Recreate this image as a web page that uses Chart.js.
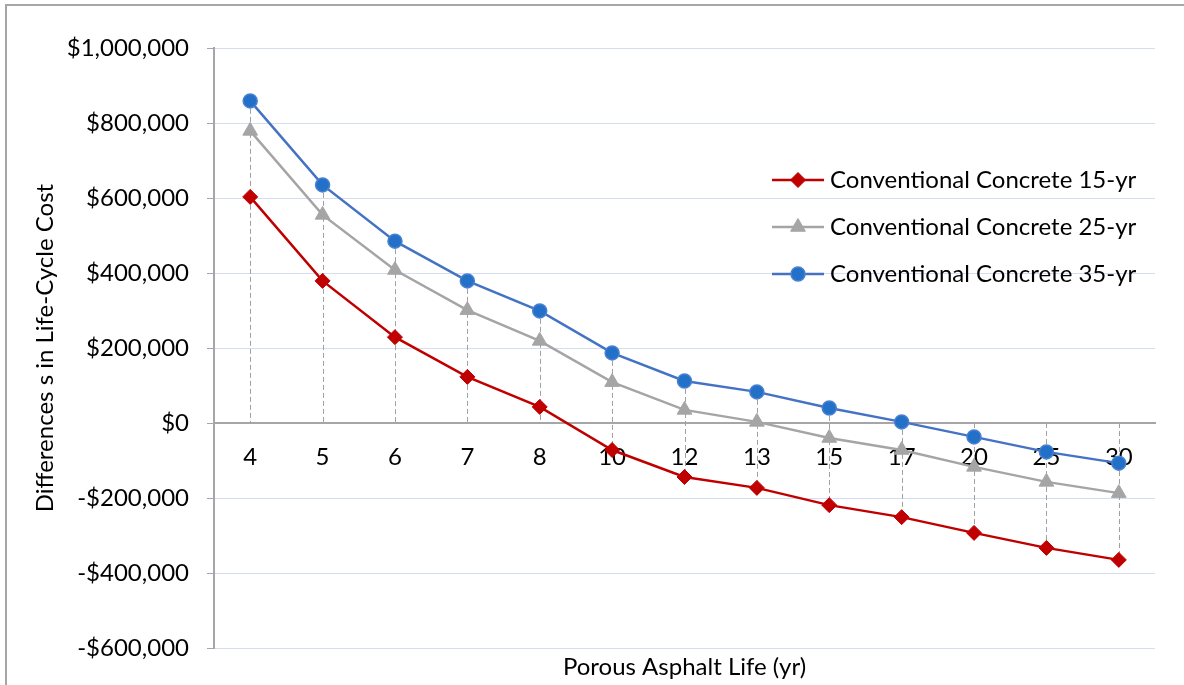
<!DOCTYPE html>
<html>
<head>
<meta charset="utf-8">
<title>Differences in Life-Cycle Cost</title>
<script src="https://cdn.jsdelivr.net/npm/chart.js@4.4.1/dist/chart.umd.min.js"></script>
<style>
  html, body { margin: 0; padding: 0; background: #ffffff; }
  #wrap { position: relative; width: 1184px; height: 685px; overflow: hidden; }
  canvas { display: block; }
</style>
</head>
<body>
<div id="wrap"><canvas id="lcc" width="1184" height="685"></canvas></div>
<script>
// Porous asphalt life (years) on the category axis
const asphaltLife = ['4', '5', '6', '7', '8', '10', '12', '13', '15', '17', '20', '25', '30'];

// Life-cycle cost differences against conventional concrete of each service life ($)
const concrete15yr = [603000, 379000, 229000, 123000, 43000, -72000, -144000, -173000, -219000, -251000, -293000, -333000, -365000];
const concrete25yr = [779000, 555000, 408000, 301000, 219000, 109000, 35000, 3000, -40000, -72000, -117000, -157000, -187000];
const concrete35yr = [859000, 635000, 485000, 379000, 299000, 187000, 112000, 83000, 40000, 3000, -37000, -77000, -107000];

const seriesLabels = ['Conventional Concrete 15-yr', 'Conventional Concrete 25-yr', 'Conventional Concrete 35-yr'];

// Value axis range
const yMin = -600000;
const yMax = 1000000;
const yStep = 200000;

const FONT = 'Lato, "Open Sans", "Noto Sans", sans-serif';
const FONT_SIZE = 24;
const AXIS_GREY = '#A6A6A6';

function money(v) {
  const s = '$' + Math.abs(v).toLocaleString('en-US');
  return v < 0 ? '-' + s : s;
}

// Outer frame of the chart object
const framePlugin = {
  id: 'frame',
  beforeDraw(chart) {
    const ctx = chart.ctx;
    ctx.save();
    ctx.fillStyle = '#ffffff';
    ctx.fillRect(0, 0, chart.width, chart.height);
    ctx.strokeStyle = AXIS_GREY;
    ctx.lineWidth = 2;
    ctx.beginPath();
    ctx.moveTo(6, chart.height + 5);
    ctx.lineTo(6, 5);
    ctx.lineTo(chart.width + 5, 5);
    ctx.stroke();
    ctx.restore();
  }
};

// Dashed drop lines from each category's points to the zero axis
const dropLinePlugin = {
  id: 'dropLines',
  beforeDatasetsDraw(chart) {
    const {ctx, chartArea, scales: {x, y}} = chart;
    const sets = chart.data.datasets;
    ctx.save();
    ctx.beginPath();
    ctx.rect(chartArea.left, chartArea.top, chartArea.right - chartArea.left, chartArea.bottom - chartArea.top);
    ctx.clip();
    ctx.strokeStyle = '#A0A0A0';
    ctx.lineWidth = 1;
    ctx.setLineDash([5, 3]);
    chart.data.labels.forEach((_, i) => {
      const vals = sets.map(d => d.data[i]);
      const hi = Math.max(0, ...vals);
      const lo = Math.min(0, ...vals);
      const px = Math.round(x.getPixelForValue(i)) + 0.5;
      ctx.beginPath();
      ctx.moveTo(px, y.getPixelForValue(hi));
      ctx.lineTo(px, y.getPixelForValue(lo));
      ctx.stroke();
    });
    ctx.restore();
  }
};

function drawMarker(ctx, style, cx, cy, r, fill, stroke, bw) {
  ctx.beginPath();
  if (style === 'rectRot') {
    ctx.moveTo(cx - r, cy);
    ctx.lineTo(cx, cy - r);
    ctx.lineTo(cx + r, cy);
    ctx.lineTo(cx, cy + r);
    ctx.closePath();
  } else if (style === 'triangle') {
    for (let k = 0; k < 3; k++) {
      const a = k * 2 * Math.PI / 3;
      const px = cx + Math.sin(a) * r, py = cy - Math.cos(a) * r;
      if (k === 0) ctx.moveTo(px, py); else ctx.lineTo(px, py);
    }
    ctx.closePath();
  } else {
    ctx.arc(cx, cy, r, 0, Math.PI * 2);
  }
  ctx.fillStyle = fill;
  ctx.fill();
  if (bw > 0) {
    ctx.lineWidth = bw;
    ctx.strokeStyle = stroke;
    ctx.stroke();
  }
}

// Legend placed inside the plot area on the right
const insideLegendPlugin = {
  id: 'insideLegend',
  afterDraw(chart) {
    const ctx = chart.ctx;
    const x0 = 772, x1 = 824, textX = 830;
    const rows = [180, 227, 274];
    ctx.save();
    chart.data.datasets.forEach((d, i) => {
      const yy = rows[i];
      ctx.setLineDash([]);
      ctx.strokeStyle = d.borderColor;
      ctx.lineWidth = d.borderWidth;
      ctx.beginPath();
      ctx.moveTo(x0, yy);
      ctx.lineTo(x1, yy);
      ctx.stroke();
      drawMarker(ctx, d.pointStyle, (x0 + x1) / 2, yy, d.pointRadius, d.pointBackgroundColor, d.pointBorderColor, d.pointBorderWidth);
      ctx.fillStyle = '#000000';
      ctx.font = FONT_SIZE + 'px ' + FONT;
      ctx.textAlign = 'left';
      ctx.textBaseline = 'middle';
      ctx.fillText(d.label, textX, yy);
    });
    ctx.restore();
  }
};

// Category axis title centred under the plot area
const xTitlePlugin = {
  id: 'xTitle',
  afterDraw(chart) {
    const {ctx, chartArea} = chart;
    ctx.save();
    ctx.fillStyle = '#000000';
    ctx.font = FONT_SIZE + 'px ' + FONT;
    ctx.textAlign = 'center';
    ctx.textBaseline = 'middle';
    ctx.fillText('Porous Asphalt Life (yr)', (chartArea.left + chartArea.right) / 2, 667);
    ctx.restore();
  }
};

new Chart(document.getElementById('lcc'), {
  type: 'line',
  data: {
    labels: asphaltLife,
    datasets: [
      {
        label: seriesLabels[0],
        data: concrete15yr,
        borderColor: '#C00000',
        borderWidth: 2.5,
        pointStyle: 'rectRot',
        pointRadius: 7.5,
        pointBackgroundColor: '#C00000',
        pointBorderColor: '#C00000',
        pointBorderWidth: 1,
        tension: 0
      },
      {
        label: seriesLabels[1],
        data: concrete25yr,
        borderColor: '#A5A5A5',
        borderWidth: 2.5,
        pointStyle: 'triangle',
        pointRadius: 8.5,
        pointBackgroundColor: '#A5A5A5',
        pointBorderColor: '#A5A5A5',
        pointBorderWidth: 1,
        tension: 0
      },
      {
        label: seriesLabels[2],
        data: concrete35yr,
        borderColor: '#4472C4',
        borderWidth: 2.5,
        pointStyle: 'circle',
        pointRadius: 7,
        pointBackgroundColor: '#2270C8',
        pointBorderColor: '#4A80D0',
        pointBorderWidth: 1.5,
        tension: 0
      }
    ]
  },
  options: {
    responsive: false,
    animation: false,
    layout: { padding: { left: 0, top: 48, right: 29, bottom: 37 } },
    plugins: {
      legend: { display: false },
      tooltip: { enabled: false },
      title: { display: false }
    },
    scales: {
      x: {
        type: 'category',
        offset: true,
        position: { y: 0 },
        z: 1,
        grid: { display: false, drawTicks: false },
        border: { display: true, color: AXIS_GREY, width: 2 },
        ticks: {
          color: '#000000',
          font: { family: FONT, size: FONT_SIZE },
          padding: 20,
          maxRotation: 0,
          autoSkip: false
        }
      },
      y: {
        min: yMin,
        max: yMax,
        afterFit(scale) { scale.width = 214; },
        grid: {
          color: '#D5DEEE',
          lineWidth: 1,
          tickColor: AXIS_GREY,
          tickLength: 7,
          drawTicks: true
        },
        border: { display: true, color: AXIS_GREY, width: 2 },
        ticks: {
          stepSize: yStep,
          color: '#000000',
          font: { family: FONT, size: FONT_SIZE },
          padding: 18,
          callback: (v) => money(v)
        },
        title: {
          display: true,
          text: 'Differences s in Life-Cycle Cost',
          color: '#000000',
          font: { family: FONT, size: FONT_SIZE },
          padding: { top: 31, bottom: 0 }
        }
      }
    }
  },
  plugins: [framePlugin, dropLinePlugin, insideLegendPlugin, xTitlePlugin]
});
</script>
</body>
</html>
